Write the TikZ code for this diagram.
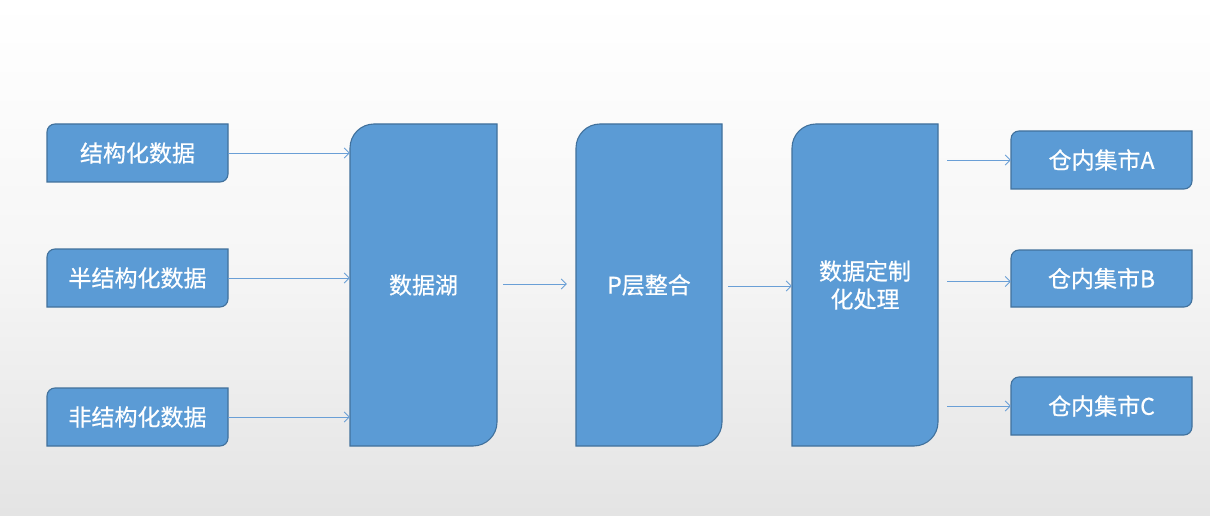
\documentclass[tikz,border=0pt]{standalone}
\usepackage{fontspec}
\setmainfont{Noto Sans CJK SC}[FakeBold=0.6]
\usetikzlibrary{arrows.meta,calc}
\definecolor{boxfill}{HTML}{5B9BD5}
\definecolor{boxline}{HTML}{41719C}
\definecolor{arrowc}{HTML}{6A9FD6}
\definecolor{bgbot}{HTML}{E4E4E4}
\tikzset{
  lbl/.style={inner sep=0pt, text=white, font=\fontsize{23}{28}\selectfont, align=center},
  shp/.style={fill=boxfill, draw=boxline, line width=1.1pt},
  conn/.style={draw=arrowc, line width=0.8pt, -{Straight Barb[length=5pt,width=10pt,line width=0.8pt]}}
}
% \dbox{name}{L}{T}{R}{B}{r}{text}  (pixel coords, y down)
\newcommand{\dbox}[7]{%
  \path[shp] (#2,{515-#5}) -- (#2,{515-#3-#6}) arc[start angle=180,end angle=90,radius=#6]
    -- (#4,{515-#3}) -- (#4,{515-#5+#6}) arc[start angle=0,end angle=-90,radius=#6] -- cycle;
  \node[lbl, minimum width={#4-#2}, minimum height={#5-#3}] (#1) at ({(#2+#4)/2},{515-(#3+#5)/2}) {#7};
}
\begin{document}
\begin{tikzpicture}[x=1pt,y=1pt]
\shade[top color=white, bottom color=bgbot, middle color={rgb,255:red,246;green,246;blue,246}] (0,0) rectangle (1210,515);
\useasboundingbox (0,0) rectangle (1210,515);

\dbox{s1}{47}{124}{228}{182}{8}{结构化数据}
\dbox{s2}{47}{249}{228}{307}{8}{半结构化数据}
\dbox{s3}{47}{388}{228}{446}{8}{非结构化数据}

\dbox{lake}{350}{124}{497}{446}{24}{数据湖}
\dbox{play}{576}{124}{722}{446}{24}{P层整合}
\dbox{cust}{792}{124}{938}{446}{24}{数据定制\\化处理}

\dbox{ma}{1011}{131}{1192}{189}{8}{仓内集市A}
\dbox{mb}{1011}{250}{1192}{307}{8}{仓内集市B}
\dbox{mc}{1011}{377}{1192}{435}{8}{仓内集市C}

\draw[conn] (s1.east) -- (s1.east -| lake.west);
\draw[conn] (s2.east) -- (s2.east -| lake.west);
\draw[conn] (s3.east) -- (s3.east -| lake.west);

\draw[conn, shorten <=6pt, shorten >=9pt] ([yshift=1pt]lake.east) -- ([yshift=1pt]lake.east -| play.west);
\draw[conn, shorten <=6pt] ([yshift=-1pt]play.east) -- ([yshift=-1pt]play.east -| cust.west);

\draw[conn, shorten <=9pt] (ma.west -| cust.east) -- (ma.west);
\draw[conn, shorten <=9pt] ([yshift=-3pt]mb.west -| cust.east) -- ([yshift=-3pt]mb.west);
\draw[conn, shorten <=9pt] (mc.west -| cust.east) -- (mc.west);
\end{tikzpicture}
\end{document}
